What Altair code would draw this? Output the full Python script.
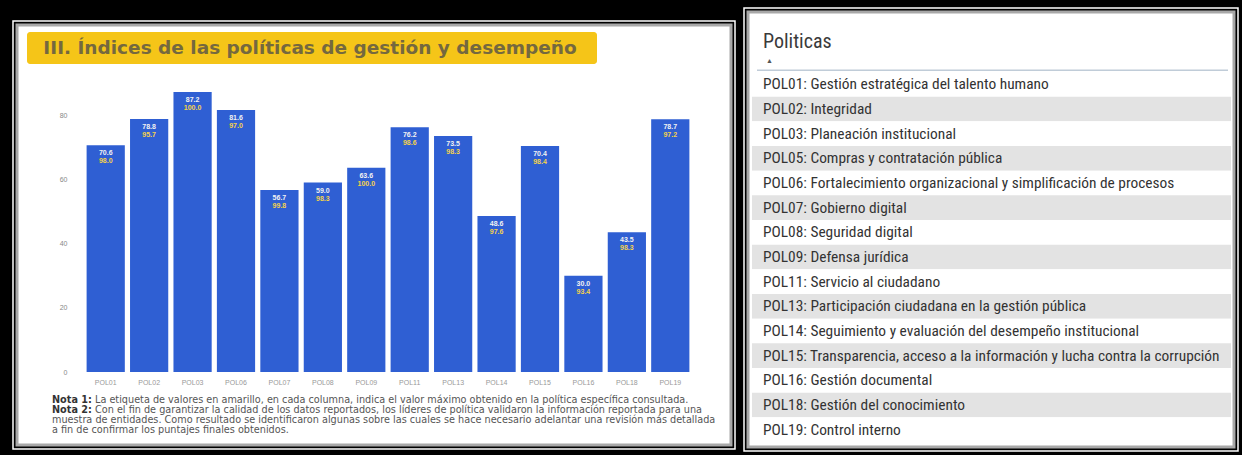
import altair as alt
import pandas as pd

# ---------------- data ----------------
policies = ["POL01", "POL02", "POL03", "POL06", "POL07", "POL08", "POL09",
            "POL11", "POL13", "POL14", "POL15", "POL16", "POL18", "POL19"]
scores = [70.6, 78.8, 87.2, 81.6, 56.7, 59.0, 63.6, 76.2, 73.5, 48.6, 70.4, 30.0, 43.5, 78.7]
max_scores = [98.0, 95.7, 100.0, 97.0, 99.8, 98.3, 100.0, 98.6, 98.3, 97.6, 98.4, 93.4, 98.3, 97.2]
y_ticks = [0, 20, 40, 60, 80]

table_codes = ["POL01", "POL02", "POL03", "POL05", "POL06", "POL07", "POL08", "POL09",
               "POL11", "POL13", "POL14", "POL15", "POL16", "POL18", "POL19"]
table_names = [
    "Gestión estratégica del talento humano",
    "Integridad",
    "Planeación institucional",
    "Compras y contratación pública",
    "Fortalecimiento organizacional y simplificación de procesos",
    "Gobierno digital",
    "Seguridad digital",
    "Defensa jurídica",
    "Servicio al ciudadano",
    "Participación ciudadana en la gestión pública",
    "Seguimiento y evaluación del desempeño institucional",
    "Transparencia, acceso a la información y lucha contra la corrupción",
    "Gestión documental",
    "Gestión del conocimiento",
    "Control interno",
]

chart_title = "III. Índices de las políticas de gestión y desempeño"
table_header = "Politicas"
note_labels = ["Nota 1:", "Nota 2:"]
note_lines = [
    "La etiqueta de valores en amarillo, en cada columna, indica el valor máximo obtenido en la política específica consultada.",
    "Con el fin de garantizar la calidad de los datos reportados, los líderes de política validaron la información reportada para una",
    "muestra de entidades. Como resultado se identificaron algunas sobre las cuales se hace necesario adelantar una revisión más detallada",
    "a fin de confirmar los puntajes finales obtenidos.",
]

# ---------------- tables ----------------
bars_df = pd.DataFrame({
    "pol": policies,
    "score": scores,
    "maxv": max_scores,
    "score_label": [f"{v:.1f}" for v in scores],
    "max_label": [f"{v:.1f}" for v in max_scores],
})
rows_df = pd.DataFrame({
    "label": [f"{c}: {n}" for c, n in zip(table_codes, table_names)],
    "shade": [i % 2 for i in range(len(table_codes))],
})
one = pd.DataFrame({"k": [0]})

SANS = "Liberation Sans"
WIDE = "DejaVu Sans"
COND = "Roboto Condensed"


def rect(x1, x2, y1, y2, **kw):
    return alt.Chart(one).mark_rect(**kw).encode(
        x=alt.value(x1), x2=alt.value(x2), y=alt.value(y1), y2=alt.value(y2))


def text(x, y, t, **kw):
    return alt.Chart(one).mark_text(**kw).encode(
        x=alt.value(x), y=alt.value(y), text=alt.value(t))


# ---------------- panels ----------------
deco = [
    rect(13, 735, 21, 449, fill=None, stroke="white", strokeWidth=1.5),
    rect(17, 731, 25, 445, fill="white", stroke="#a8a8a8", strokeWidth=3),
    rect(744, 1238, 8, 451, fill=None, stroke="white", strokeWidth=1.5),
    rect(748, 1234, 12, 447, fill="white", stroke="#a8a8a8", strokeWidth=3),
    rect(27, 597, 32, 64, fill="#F5C518", cornerRadius=3),
    text(310, 48, chart_title, font=WIDE, fontWeight="bold", fontSize=18.5,
         color="#74683f", align="center", baseline="middle"),
]

notes = []
for i, line in enumerate(note_lines):
    y = 400 + 10 * i
    if i < len(note_labels):
        notes.append(text(52, y, note_labels[i], font=WIDE, fontWeight="bold", fontSize=9.7,
                          color="#333", align="left", baseline="middle"))
        notes.append(text(95, y, line, font=WIDE, fontSize=9.7, color="#555",
                          align="left", baseline="middle"))
    else:
        notes.append(text(52, y, line, font=WIDE, fontSize=9.7, color="#555",
                          align="left", baseline="middle"))

# ---------------- bars ----------------
x_scale = alt.Scale(domain=policies, range=[84, 692], paddingInner=0.12, paddingOuter=0.06)
y_scale = alt.Scale(domain=[0, 90], range=[372, 83], nice=False, zero=True)

base = alt.Chart(bars_df)
bars = base.mark_bar(color="#2F5FD3").encode(
    x=alt.X("pol:N", scale=x_scale, title=None,
            axis=alt.Axis(orient="bottom", offset=-79, labelAngle=0, labelFontSize=7,
                          labelColor="#999", labelFont=SANS, domain=False, ticks=False,
                          labelPadding=2, zindex=1)),
    y=alt.Y("score:Q", scale=y_scale, title=None,
            axis=alt.Axis(orient="left", offset=-70, values=y_ticks, labelFontSize=7,
                          labelColor="#888", labelFont=SANS, domain=False, ticks=False,
                          grid=False, labelPadding=3, zindex=1)),
)
lab1 = base.mark_text(dy=8, fontSize=7, fontWeight="bold", color="#f2f2f2", font=SANS,
                      baseline="middle").encode(
    x=alt.X("pol:N", scale=x_scale), y=alt.Y("score:Q", scale=y_scale), text="score_label:N")
lab2 = base.mark_text(dy=16, fontSize=7, fontWeight="bold", color="#F5D24A", font=SANS,
                      baseline="middle").encode(
    x=alt.X("pol:N", scale=x_scale), y=alt.Y("score:Q", scale=y_scale), text="max_label:N")
bar_group = alt.layer(bars, lab1, lab2)

# ---------------- table ----------------
row_scale = alt.Scale(domain=list(rows_df["label"]), range=[72, 442], paddingInner=0, paddingOuter=0)
tbase = alt.Chart(rows_df)
row_bg = tbase.mark_rect().encode(
    y=alt.Y("label:N", scale=row_scale, axis=None),
    x=alt.value(752), x2=alt.value(1231),
    fill=alt.condition(alt.datum.shade == 1, alt.value("#e3e3e3"), alt.value("#ffffff")),
)
row_txt = tbase.mark_text(align="left", baseline="middle", font=COND, fontSize=15.4,
                          color="#333").encode(
    y=alt.Y("label:N", scale=row_scale, axis=None),
    x=alt.value(763), text="label:N",
)
table_group = alt.layer(row_bg, row_txt)

table_deco = [
    text(763, 42, table_header, font=COND, fontSize=20, color="#3a3a3a",
         align="left", baseline="middle"),
    text(766, 61, "▲", font=SANS, fontSize=7, color="#555", align="left", baseline="middle"),
    rect(757, 1228, 69.5, 71, fill="#c0ccd8"),
]

chart = alt.layer(
    *deco, *notes, bar_group, table_group, *table_deco
).resolve_scale(y="independent").properties(
    width=1242, height=455, padding=0, background="black",
    autosize=alt.AutoSizeParams(type="none"),
).configure_view(strokeWidth=0)

chart.save("out.html", embed_options={"renderer": "svg", "actions": False})
